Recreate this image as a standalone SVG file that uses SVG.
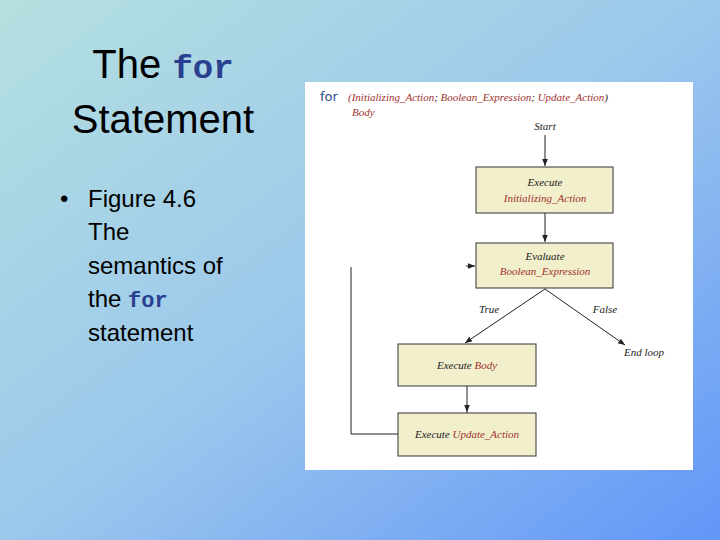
<svg xmlns="http://www.w3.org/2000/svg" width="720" height="540" viewBox="0 0 720 540">
<defs>
<linearGradient id="bg" x1="0" y1="0" x2="1" y2="1">
<stop offset="0" stop-color="#b4e0e0"/><stop offset="0.5" stop-color="#9cc8ec"/><stop offset="1" stop-color="#6196f8"/>
</linearGradient>
<marker id="ah" viewBox="0 0 10 10" refX="10" refY="5" markerWidth="7" markerHeight="7" orient="auto" markerUnits="userSpaceOnUse"><path d="M0,1 L10,5 L0,9 z" fill="#222"/></marker>
<style>
.box{fill:#f2efcc;stroke:#333;stroke-width:1}
.t{font-family:"Liberation Serif",serif;font-style:italic;font-size:11px;fill:#222}
.r{fill:#a0302c}
.ln{stroke:#222;stroke-width:1;fill:none}
.sl{font-family:"Liberation Sans",Arial,sans-serif;fill:#000}
.mono{font-family:"Liberation Mono",monospace;font-weight:bold;fill:#2a3f8f}
</style>
</defs>
<rect width="720" height="540" fill="url(#bg)"/>
<text class="sl" x="163" y="78" font-size="40" text-anchor="middle">The <tspan class="mono" font-size="34">for</tspan></text>
<text class="sl" x="163" y="133" font-size="40" text-anchor="middle">Statement</text>
<g class="sl" font-size="24">
<text x="60" y="207">•</text>
<text x="88" y="207">Figure 4.6</text>
<text x="88" y="240">The</text>
<text x="88" y="274">semantics of</text>
<text x="88" y="307">the <tspan class="mono" font-size="22">for</tspan></text>
<text x="88" y="341">statement</text>
</g>
<rect x="305" y="82" width="388" height="388" fill="#fff"/>
<text x="320" y="101" font-family="DejaVu Sans,sans-serif" font-size="13" fill="#2a4a8f">for</text>
<text class="t r" x="348" y="101">(Initializing_Action<tspan fill="#222">;</tspan> Boolean_Expression<tspan fill="#222">;</tspan> Update_Action<tspan fill="#222">)</tspan></text>
<text class="t r" x="352" y="116">Body</text>
<text class="t" x="545" y="130" text-anchor="middle">Start</text>
<g id="connectors">
<line class="ln" x1="545" y1="135" x2="545" y2="166" marker-end="url(#ah)"/>
<line class="ln" x1="545" y1="213" x2="545" y2="242" marker-end="url(#ah)"/>
<line class="ln" x1="545" y1="289" x2="465" y2="343" marker-end="url(#ah)" stroke-width="0.8"/>
<line class="ln" x1="545" y1="289" x2="625" y2="345" marker-end="url(#ah)" stroke-width="0.8"/>
<line class="ln" x1="467" y1="414" x2="467" y2="412"/>
<line class="ln" x1="467" y1="386" x2="467" y2="412" marker-end="url(#ah)"/>
<polyline class="ln" points="398,434 351,434 351,267"/>
<line class="ln" x1="466" y1="266" x2="475" y2="266" marker-end="url(#ah)"/>
</g>
<g id="init"><rect class="box" x="476" y="167" width="137" height="46"/>
<text class="t" x="545" y="186" text-anchor="middle">Execute</text>
<text class="t r" x="545" y="202" text-anchor="middle">Initializing_Action</text></g>
<g id="eval"><rect class="box" x="476" y="243" width="137" height="45"/>
<text class="t" x="545" y="260" text-anchor="middle">Evaluate</text>
<text class="t r" x="545" y="275" text-anchor="middle">Boolean_Expression</text></g>
<g id="body"><rect class="box" x="398" y="344" width="138" height="42"/>
<text class="t" x="467" y="369" text-anchor="middle">Execute <tspan class="r">Body</tspan></text></g>
<g id="update"><rect class="box" x="398" y="413" width="138" height="43"/>
<text class="t" x="467" y="438" text-anchor="middle">Execute <tspan class="r">Update_Action</tspan></text></g>
<text class="t" x="489" y="313" text-anchor="middle">True</text>
<text class="t" x="605" y="313" text-anchor="middle">False</text>
<text class="t" x="644" y="356" text-anchor="middle">End loop</text>
</svg>
